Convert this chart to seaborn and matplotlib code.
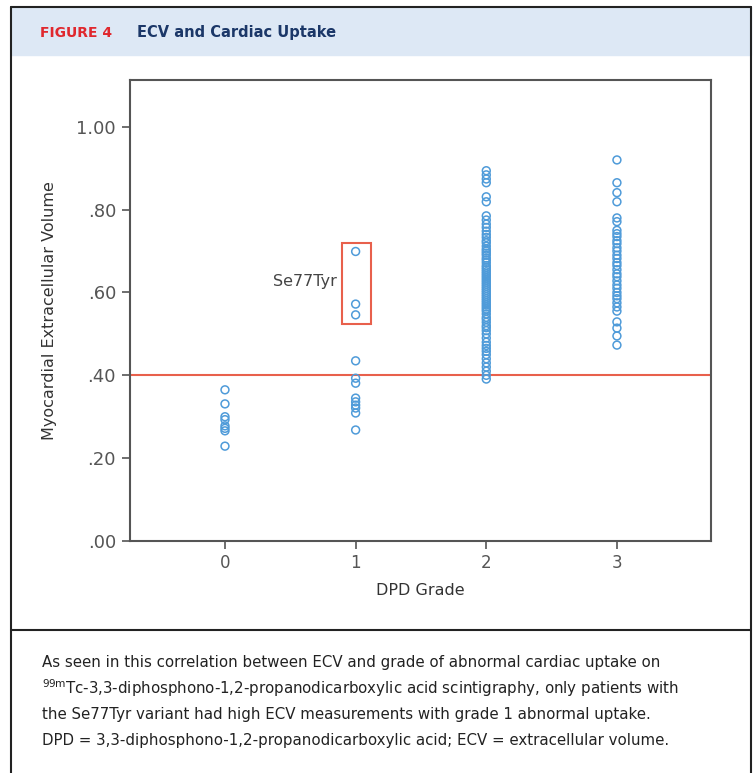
import pandas as pd
import matplotlib.pyplot as plt
import matplotlib.patches as mpatches
from matplotlib.lines import Line2D
import seaborn as sns

# ECV values, one list per DPD grade
grade0 = [0.365, 0.331, 0.300, 0.293, 0.278, 0.272, 0.266, 0.229]
grade1 = [0.699, 0.572, 0.546, 0.435, 0.393, 0.381, 0.345, 0.336, 0.328,
          0.321, 0.309, 0.268]
grade2 = [0.894, 0.884, 0.874, 0.865, 0.831, 0.819, 0.785, 0.775, 0.765,
          0.757, 0.748, 0.740, 0.733, 0.725, 0.720, 0.712, 0.705, 0.700,
          0.695, 0.690, 0.683, 0.678, 0.672, 0.665, 0.660, 0.655, 0.650,
          0.645, 0.640, 0.635, 0.630, 0.625, 0.620, 0.615, 0.610, 0.605,
          0.600, 0.595, 0.590, 0.585, 0.580, 0.575, 0.570, 0.565, 0.560,
          0.555, 0.548, 0.540, 0.535, 0.528, 0.520, 0.515, 0.508, 0.500,
          0.490, 0.480, 0.472, 0.465, 0.458, 0.450, 0.440, 0.430, 0.420,
          0.410, 0.400, 0.391]
grade3 = [0.920, 0.865, 0.841, 0.819, 0.780, 0.771, 0.750, 0.742, 0.735,
          0.725, 0.718, 0.708, 0.700, 0.690, 0.682, 0.672, 0.665, 0.655,
          0.645, 0.638, 0.628, 0.618, 0.610, 0.600, 0.592, 0.585, 0.575,
          0.565, 0.555, 0.529, 0.514, 0.495, 0.473]

grades = [0, 1, 2, 3]
ytick_vals = [0.0, 0.2, 0.4, 0.6, 0.8, 1.0]
ytick_labels = ['.00', '.20', '.40', '.60', '.80', '1.00']
cutoff = 0.40
highlight_box = (0.895, 0.524, 1.117, 0.720)  # x0, y0, x1, y1 around Se77Tyr cases

caption_lines = [
    "As seen in this correlation between ECV and grade of abnormal cardiac uptake on",
    r"$^{\mathrm{99m}}$Tc-3,3-diphosphono-1,2-propanodicarboxylic acid scintigraphy, only patients with",
    "the Se77Tyr variant had high ECV measurements with grade 1 abnormal uptake.",
    "DPD = 3,3-diphosphono-1,2-propanodicarboxylic acid; ECV = extracellular volume.",
]

df = pd.DataFrame({
    'grade': [0] * len(grade0) + [1] * len(grade1) + [2] * len(grade2) + [3] * len(grade3),
    'ecv': grade0 + grade1 + grade2 + grade3,
})

sns.set_theme(style='white')
plt.rcParams['font.family'] = ['DejaVu Sans']
plt.rcParams['mathtext.default'] = 'regular'

fig = plt.figure(figsize=(7.56, 7.73), dpi=100)
W, H = 756, 773

def fx(px):
    return px / W

def fy(py):
    return 1 - py / H

# header band and frame
fig.patches.append(mpatches.Rectangle((fx(11), fy(55)), fx(740), 48 / H,
                                      transform=fig.transFigure, color='#dde8f5', zorder=0))
frame_kw = dict(transform=fig.transFigure, color='#222222', lw=1.5)
fig.lines.append(Line2D([fx(11), fx(751)], [fy(7), fy(7)], **frame_kw))
fig.lines.append(Line2D([fx(11), fx(11)], [fy(7), 0], **frame_kw))
fig.lines.append(Line2D([fx(751), fx(751)], [fy(7), 0], **frame_kw))
fig.lines.append(Line2D([fx(11), fx(751)], [fy(630), fy(630)], **frame_kw))

fig.text(fx(40), fy(33), 'FIGURE 4', color='#e0282e', fontsize=10,
         fontweight='bold', va='center')
fig.text(fx(137), fy(33), 'ECV and Cardiac Uptake', color='#1b3768', fontsize=10.5,
         fontweight='bold', va='center')

ax = fig.add_axes([fx(130), fy(541), fx(581), 461 / H])

sns.scatterplot(data=df, x='grade', y='ecv', ax=ax, marker='o', s=32,
                facecolors='none', edgecolor='#4f9bd9', linewidth=1.1, zorder=3)

ax.axhline(cutoff, color='#e8604c', lw=1.5, zorder=2)
x0, y0, x1, y1 = highlight_box
ax.add_patch(mpatches.Rectangle((x0, y0), x1 - x0, y1 - y0, fill=False,
                                edgecolor='#e8604c', lw=1.5, zorder=2))
ax.text(x0 - 0.04, (y0 + y1) / 2 + 0.005, 'Se77Tyr', ha='right', va='center',
        fontsize=11.5, color='#444444')

ax.set_xlim(-0.727, 3.72)
ax.set_ylim(0, 1.113)
ax.set_xticks(grades)
ax.set_xticklabels([str(g) for g in grades])
ax.set_yticks(ytick_vals)
ax.set_yticklabels(ytick_labels)
ax.tick_params(axis='both', length=6, width=1.2, color='#555555', labelcolor='#555555',
               labelsize=12, direction='out', left=True, bottom=True)
ax.tick_params(axis='y', labelsize=13, pad=4)
for sp in ax.spines.values():
    sp.set_color('#555555')
    sp.set_linewidth(1.5)

ax.set_xlabel('DPD Grade', fontsize=11.5, color='#333333', labelpad=8)
ax.set_ylabel('Myocardial Extracellular Volume', fontsize=11.5, color='#333333', labelpad=14)

for i, line in enumerate(caption_lines):
    fig.text(fx(42), fy(662 + i * 26.3), line, fontsize=10.8, color='#222222',
             va='center')

fig.savefig('out.png', dpi=100)
